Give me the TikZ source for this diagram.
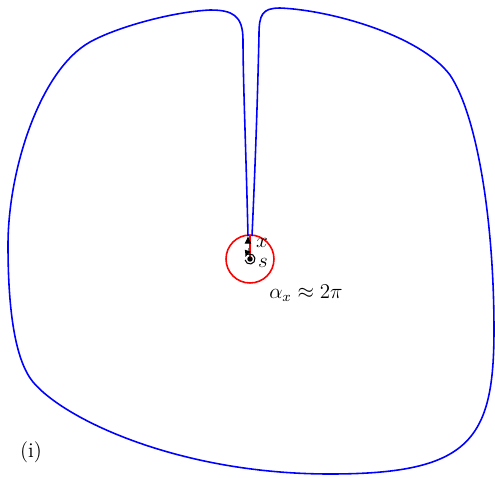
\documentclass[tikz,border=0pt]{standalone}
\usepackage{amsmath,amssymb}
\usepackage{tikz}
\usetikzlibrary{arrows.meta,positioning}
\tikzset{
  loopcurve/.style={line width=0.9pt,draw=blue},
  ballcirc/.style={line width=0.9pt,draw=red},
  radial/.style={line width=0.9pt,draw=red},
  vecarr/.style={-{Latex[length=1.5mm,width=1.4mm,color=black]},line width=0.5pt,draw=gray,dashed},
  turnarr/.style={-{Latex[length=1.4mm,width=1.3mm]},line width=0.6pt,draw=black},
  dotpt/.style={circle,fill=black,inner sep=1.1pt},
  lab/.style={font=\large,inner sep=1pt}
}
\begin{document}
\begin{tikzpicture}[x=0.02cm,y=-0.02cm]
  \useasboundingbox (0,0) rectangle (495,478);

  \coordinate (s) at (250,259);
  \coordinate (xp) at (250,236);

  % ball around s
  \draw[ballcirc] (s) circle[radius=0.48cm];

  % the curve, both ends near x
  \draw[loopcurve] (248,236) .. controls (246,150) and (243,80) .. (243,40)
    .. controls (243,15) and (232,10) .. (210,10)
    .. controls (170,12) and (115,28) .. (90,42)
    .. controls (40,70) and (8,170) .. (8,245)
    .. controls (8,310) and (15,360) .. (33,382)
    .. controls (65,420) and (180,474) .. (330,474)
    .. controls (470,474) and (494,440) .. (494,330)
    .. controls (494,220) and (477,115) .. (450,75)
    .. controls (420,35) and (330,10) .. (280,8)
    .. controls (262,8) and (259,15) .. (259,35)
    .. controls (258,80) and (256,150) .. (252,236);

  \draw[radial] (s) -- (xp);
  \draw[vecarr] (248,253) -- (248,236);
  \draw[turnarr] (s) ++(-170:0.1cm) arc[start angle=-170,end angle=160,radius=0.1cm];
  \node[dotpt] (sdot) at (s) {};

  \node[lab,anchor=west] (xlab) at (254,243) {$x$};
  \node[lab,anchor=west] (slab) at (256,263) {$s$};
  \node[lab] (alab) at (306,293) {$\alpha_x\approx 2\pi$};
  \node[lab] (panel) at (31,452) {(i)};
\end{tikzpicture}
\end{document}
